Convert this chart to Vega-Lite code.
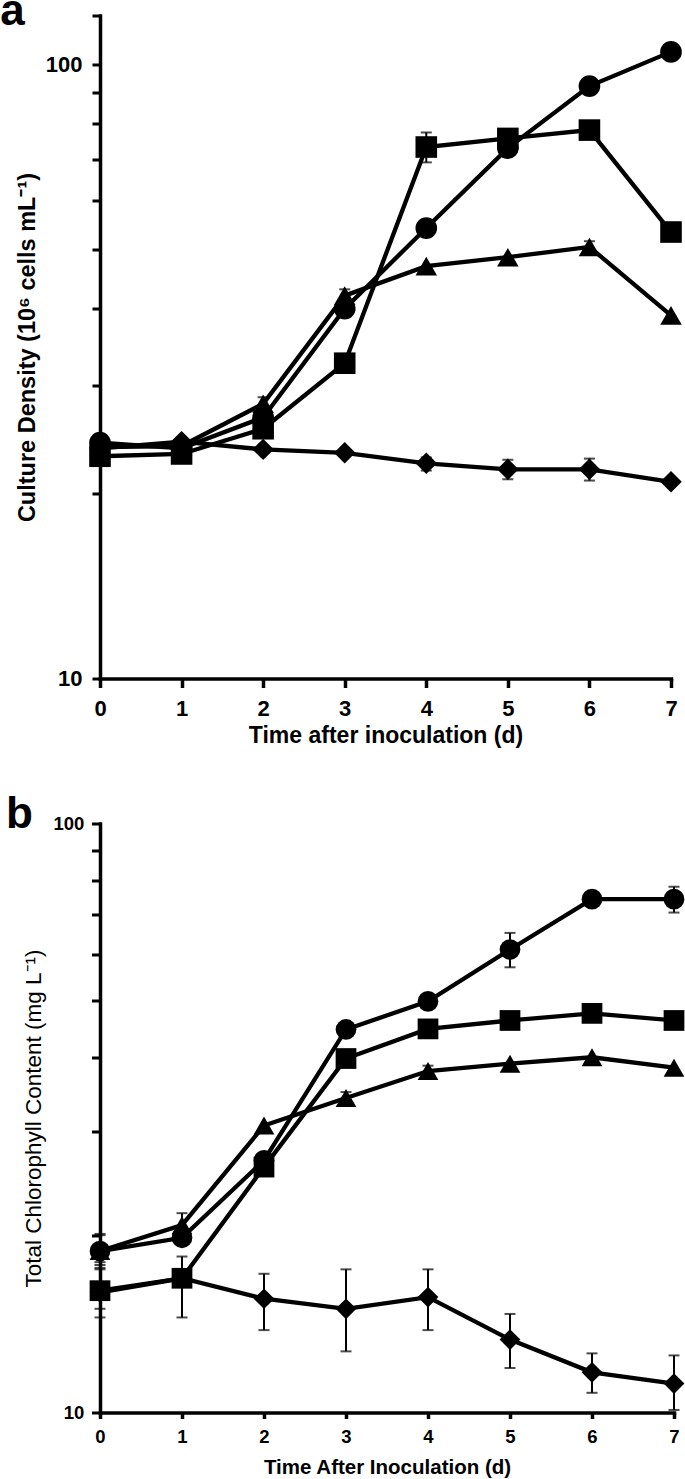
{
  "$schema": "https://vega.github.io/schema/vega-lite/v6.json",
  "background": "white",
  "padding": {"left": 0, "top": -10.5, "right": 0, "bottom": 0},
  "datasets": {
    "aMain": [
      {"series": "circle", "day": 0, "value": 24.2}, {"series": "circle", "day": 1, "value": 23.7}, {"series": "circle", "day": 2, "value": 26.6}, {"series": "circle", "day": 3, "value": 40.0}, {"series": "circle", "day": 4, "value": 54.1}, {"series": "circle", "day": 5, "value": 73.0}, {"series": "circle", "day": 6, "value": 92.1}, {"series": "circle", "day": 7, "value": 104.7},
      {"series": "square", "day": 0, "value": 23.0}, {"series": "square", "day": 1, "value": 23.2}, {"series": "square", "day": 2, "value": 25.5}, {"series": "square", "day": 3, "value": 32.6}, {"series": "square", "day": 4, "value": 73.3}, {"series": "square", "day": 5, "value": 75.7}, {"series": "square", "day": 6, "value": 78.1}, {"series": "square", "day": 7, "value": 53.3},
      {"series": "triangle", "day": 0, "value": 23.8}, {"series": "triangle", "day": 1, "value": 23.9}, {"series": "triangle", "day": 2, "value": 28.0}, {"series": "triangle", "day": 3, "value": 42.0}, {"series": "triangle", "day": 4, "value": 46.9}, {"series": "triangle", "day": 5, "value": 48.5}, {"series": "triangle", "day": 6, "value": 50.4}, {"series": "triangle", "day": 7, "value": 39.0},
      {"series": "diamond", "day": 0, "value": 23.7}, {"series": "diamond", "day": 1, "value": 24.3}, {"series": "diamond", "day": 2, "value": 23.6}, {"series": "diamond", "day": 3, "value": 23.3}, {"series": "diamond", "day": 4, "value": 22.4}, {"series": "diamond", "day": 5, "value": 21.9}, {"series": "diamond", "day": 6, "value": 21.9}, {"series": "diamond", "day": 7, "value": 20.9}
    ],
    "aErr": [
      {"series": "square", "day": 4, "lo": 69.2, "hi": 77.4},
      {"series": "diamond", "day": 4, "lo": 21.8, "hi": 22.9},
      {"series": "diamond", "day": 5, "lo": 21.1, "hi": 22.7},
      {"series": "diamond", "day": 6, "lo": 21.0, "hi": 22.8},
      {"series": "triangle", "day": 3, "lo": 41.0, "hi": 43.0},
      {"series": "triangle", "day": 2, "lo": 27.4, "hi": 28.7},
      {"series": "triangle", "day": 6, "lo": 49.5, "hi": 51.5}
    ],
    "bMain": [
      {"series": "circle", "day": 0, "value": 18.8}, {"series": "circle", "day": 1, "value": 19.8}, {"series": "circle", "day": 2, "value": 26.8}, {"series": "circle", "day": 3, "value": 44.7}, {"series": "circle", "day": 4, "value": 49.9}, {"series": "circle", "day": 5, "value": 61.1}, {"series": "circle", "day": 6, "value": 74.4}, {"series": "circle", "day": 7, "value": 74.4},
      {"series": "square", "day": 0, "value": 16.1}, {"series": "square", "day": 1, "value": 16.9}, {"series": "square", "day": 2, "value": 26.1}, {"series": "square", "day": 3, "value": 39.9}, {"series": "square", "day": 4, "value": 44.8}, {"series": "square", "day": 5, "value": 46.3}, {"series": "square", "day": 6, "value": 47.6}, {"series": "square", "day": 7, "value": 46.3},
      {"series": "triangle", "day": 0, "value": 18.8}, {"series": "triangle", "day": 1, "value": 20.8}, {"series": "triangle", "day": 2, "value": 30.7}, {"series": "triangle", "day": 3, "value": 34.2}, {"series": "triangle", "day": 4, "value": 38.0}, {"series": "triangle", "day": 5, "value": 39.1}, {"series": "triangle", "day": 6, "value": 40.1}, {"series": "triangle", "day": 7, "value": 38.5},
      {"series": "diamond", "day": 0, "value": 16.0}, {"series": "diamond", "day": 1, "value": 16.9}, {"series": "diamond", "day": 2, "value": 15.6}, {"series": "diamond", "day": 3, "value": 15.0}, {"series": "diamond", "day": 4, "value": 15.7}, {"series": "diamond", "day": 5, "value": 13.3}, {"series": "diamond", "day": 6, "value": 11.7}, {"series": "diamond", "day": 7, "value": 11.2}
    ],
    "bErr": [
      {"series": "circle", "day": 0, "lo": 17.8, "hi": 20.1},
      {"series": "triangle", "day": 0, "lo": 17.6, "hi": 20.0},
      {"series": "diamond", "day": 0, "lo": 14.5, "hi": 18.0},
      {"series": "square", "day": 0, "lo": 15.0, "hi": 17.5},
      {"series": "triangle", "day": 1, "lo": 19.8, "hi": 21.8},
      {"series": "diamond", "day": 1, "lo": 14.5, "hi": 18.4},
      {"series": "diamond", "day": 2, "lo": 13.8, "hi": 17.2},
      {"series": "diamond", "day": 3, "lo": 12.7, "hi": 17.5},
      {"series": "diamond", "day": 4, "lo": 13.8, "hi": 17.5},
      {"series": "diamond", "day": 5, "lo": 11.9, "hi": 14.7},
      {"series": "diamond", "day": 6, "lo": 10.8, "hi": 12.6},
      {"series": "diamond", "day": 7, "lo": 10.1, "hi": 12.5},
      {"series": "circle", "day": 5, "lo": 57.0, "hi": 65.2},
      {"series": "circle", "day": 7, "lo": 70.6, "hi": 78.1},
      {"series": "triangle", "day": 3, "lo": 33.4, "hi": 35.0},
      {"series": "triangle", "day": 4, "lo": 37.3, "hi": 38.8}
    ]
  },
  "columns": 1,
  "align": "none",
  "spacing": 45,
  "concat": [
    {
      "width": 571,
      "height": 663,
      "title": {"text": "a", "fontSize": 44, "offset": -29.5, "dx": -15},
      "layer": [
        {
          "data": {"name": "aErr"},
          "mark": {"type": "errorbar", "color": "black", "ticks": {"size": 11, "thickness": 2, "color": "black"}, "rule": {"strokeWidth": 2, "color": "black"}},
          "encoding": {
            "x": {"field": "day", "type": "quantitative", "scale": {"domain": [0, 7], "nice": false, "zero": false},
              "axis": {"values": [0, 1, 2, 3, 4, 5, 6, 7], "format": "d", "title": "Time after inoculation (d)", "titleFontSize": 23, "labelFontSize": 22, "tickSize": 9, "tickWidth": 3.5, "labelPadding": 10.7, "titlePadding": 5, "domainWidth": 3.5, "labelFlush": false, "labelOverlap": false}},
            "y": {"field": "lo", "type": "quantitative", "scale": {"type": "log", "domain": [10, 120], "nice": false},
              "axis": {"values": [10, 20, 30, 40, 50, 60, 70, 80, 90, 100, 120], "format": "d", "labelExpr": "datum.value == 10 || datum.value == 100 ? datum.label : ''", "title": "Culture Density (10⁶ cells mL⁻¹)", "titleFontSize": 23.5, "labelFontSize": 22, "tickSize": 8, "tickWidth": 3, "labelPadding": 10, "titlePadding": 6, "domainWidth": 3.5, "labelOverlap": false, "labelFlush": false}},
            "y2": {"field": "hi"}
          }
        },
        {
          "data": {"name": "aMain"},
          "mark": {"type": "line", "color": "black", "strokeWidth": 4.3},
          "encoding": {
            "x": {"field": "day", "type": "quantitative", "scale": {"domain": [0, 7], "nice": false, "zero": false},
              "axis": {"values": [0, 1, 2, 3, 4, 5, 6, 7], "format": "d", "title": "Time after inoculation (d)", "titleFontSize": 23, "labelFontSize": 22, "tickSize": 9, "tickWidth": 3.5, "labelPadding": 10.7, "titlePadding": 5, "domainWidth": 3.5, "labelFlush": false, "labelOverlap": false}},
            "y": {"field": "value", "type": "quantitative", "scale": {"type": "log", "domain": [10, 120], "nice": false},
              "axis": {"values": [10, 20, 30, 40, 50, 60, 70, 80, 90, 100, 120], "format": "d", "labelExpr": "datum.value == 10 || datum.value == 100 ? datum.label : ''", "title": "Culture Density (10⁶ cells mL⁻¹)", "titleFontSize": 23.5, "labelFontSize": 22, "tickSize": 8, "tickWidth": 3, "labelPadding": 10, "titlePadding": 6, "domainWidth": 3.5, "labelOverlap": false, "labelFlush": false}},
            "detail": {"field": "series"}
          }
        },
        {
          "data": {"name": "aMain"},
          "mark": {"type": "point", "filled": true, "color": "black", "opacity": 1, "strokeWidth": 0},
          "encoding": {
            "x": {"field": "day", "type": "quantitative", "scale": {"domain": [0, 7], "nice": false, "zero": false},
              "axis": {"values": [0, 1, 2, 3, 4, 5, 6, 7], "format": "d", "title": "Time after inoculation (d)", "titleFontSize": 23, "labelFontSize": 22, "tickSize": 9, "tickWidth": 3.5, "labelPadding": 10.7, "titlePadding": 5, "domainWidth": 3.5, "labelFlush": false, "labelOverlap": false}},
            "y": {"field": "value", "type": "quantitative", "scale": {"type": "log", "domain": [10, 120], "nice": false},
              "axis": {"values": [10, 20, 30, 40, 50, 60, 70, 80, 90, 100, 120], "format": "d", "labelExpr": "datum.value == 10 || datum.value == 100 ? datum.label : ''", "title": "Culture Density (10⁶ cells mL⁻¹)", "titleFontSize": 23.5, "labelFontSize": 22, "tickSize": 8, "tickWidth": 3, "labelPadding": 10, "titlePadding": 6, "domainWidth": 3.5, "labelOverlap": false, "labelFlush": false}},
            "shape": {"field": "series", "type": "nominal", "scale": {"domain": ["circle", "square", "triangle", "diamond"], "range": ["circle", "square", "triangle-up", "diamond"]}, "legend": null},
            "size": {"field": "series", "type": "nominal", "scale": {"domain": ["circle", "square", "triangle", "diamond"], "range": [470, 460, 600, 440]}, "legend": null}
          }
        }
      ]
    },
    {
      "width": 574,
      "height": 589,
      "title": {"text": "b", "fontSize": 44, "offset": -22, "dx": -17},
      "layer": [
        {
          "data": {"name": "bErr"},
          "mark": {"type": "errorbar", "color": "black", "ticks": {"size": 11, "thickness": 2, "color": "black"}, "rule": {"strokeWidth": 2, "color": "black"}},
          "encoding": {
            "x": {"field": "day", "type": "quantitative", "scale": {"domain": [0, 7], "nice": false, "zero": false},
              "axis": {"values": [0, 1, 2, 3, 4, 5, 6, 7], "format": "d", "title": "Time After Inoculation (d)", "titleFontSize": 20.5, "labelFontSize": 18.5, "tickSize": 6, "tickWidth": 3.5, "labelPadding": 9.3, "titlePadding": 11, "domainWidth": 3.5, "labelFlush": false, "labelOverlap": false}},
            "y": {"field": "lo", "type": "quantitative", "scale": {"type": "log", "domain": [10, 100], "nice": false},
              "axis": {"values": [10, 20, 30, 40, 50, 60, 70, 80, 90, 100], "format": "d", "labelExpr": "datum.value == 10 || datum.value == 100 ? datum.label : ''", "title": "Total Chlorophyll Content (mg L⁻¹)", "titleFontSize": 22.5, "titleFontWeight": "normal", "labelFontSize": 18.5, "tickSize": 8.5, "tickWidth": 3, "labelPadding": 7.7, "titlePadding": 7, "domainWidth": 3.5, "labelOverlap": false, "labelFlush": false}},
            "y2": {"field": "hi"}
          }
        },
        {
          "data": {"name": "bMain"},
          "mark": {"type": "line", "color": "black", "strokeWidth": 4.3},
          "encoding": {
            "x": {"field": "day", "type": "quantitative", "scale": {"domain": [0, 7], "nice": false, "zero": false},
              "axis": {"values": [0, 1, 2, 3, 4, 5, 6, 7], "format": "d", "title": "Time After Inoculation (d)", "titleFontSize": 20.5, "labelFontSize": 18.5, "tickSize": 6, "tickWidth": 3.5, "labelPadding": 9.3, "titlePadding": 11, "domainWidth": 3.5, "labelFlush": false, "labelOverlap": false}},
            "y": {"field": "value", "type": "quantitative", "scale": {"type": "log", "domain": [10, 100], "nice": false},
              "axis": {"values": [10, 20, 30, 40, 50, 60, 70, 80, 90, 100], "format": "d", "labelExpr": "datum.value == 10 || datum.value == 100 ? datum.label : ''", "title": "Total Chlorophyll Content (mg L⁻¹)", "titleFontSize": 22.5, "titleFontWeight": "normal", "labelFontSize": 18.5, "tickSize": 8.5, "tickWidth": 3, "labelPadding": 7.7, "titlePadding": 7, "domainWidth": 3.5, "labelOverlap": false, "labelFlush": false}},
            "detail": {"field": "series"}
          }
        },
        {
          "data": {"name": "bMain"},
          "mark": {"type": "point", "filled": true, "color": "black", "opacity": 1, "strokeWidth": 0},
          "encoding": {
            "x": {"field": "day", "type": "quantitative", "scale": {"domain": [0, 7], "nice": false, "zero": false},
              "axis": {"values": [0, 1, 2, 3, 4, 5, 6, 7], "format": "d", "title": "Time After Inoculation (d)", "titleFontSize": 20.5, "labelFontSize": 18.5, "tickSize": 6, "tickWidth": 3.5, "labelPadding": 9.3, "titlePadding": 11, "domainWidth": 3.5, "labelFlush": false, "labelOverlap": false}},
            "y": {"field": "value", "type": "quantitative", "scale": {"type": "log", "domain": [10, 100], "nice": false},
              "axis": {"values": [10, 20, 30, 40, 50, 60, 70, 80, 90, 100], "format": "d", "labelExpr": "datum.value == 10 || datum.value == 100 ? datum.label : ''", "title": "Total Chlorophyll Content (mg L⁻¹)", "titleFontSize": 22.5, "titleFontWeight": "normal", "labelFontSize": 18.5, "tickSize": 8.5, "tickWidth": 3, "labelPadding": 7.7, "titlePadding": 7, "domainWidth": 3.5, "labelOverlap": false, "labelFlush": false}},
            "shape": {"field": "series", "type": "nominal", "scale": {"domain": ["circle", "square", "triangle", "diamond"], "range": ["circle", "square", "triangle-up", "diamond"]}, "legend": null},
            "size": {"field": "series", "type": "nominal", "scale": {"domain": ["circle", "square", "triangle", "diamond"], "range": [430, 430, 550, 410]}, "legend": null}
          }
        }
      ]
    }
  ],
  "resolve": {"scale": {"size": "independent"}},
  "config": {
    "view": {"stroke": null},
    "axis": {
      "grid": false,
      "domainColor": "black",
      "domainCap": "square",
      "tickColor": "black",
      "labelColor": "black",
      "titleColor": "black",
      "labelFont": "Liberation Sans",
      "titleFont": "Liberation Sans",
      "labelFontWeight": "bold",
      "titleFontWeight": "bold"
    },
    "title": {"font": "Liberation Sans", "fontWeight": "bold", "color": "black", "anchor": "start", "frame": "bounds"}
  }
}
